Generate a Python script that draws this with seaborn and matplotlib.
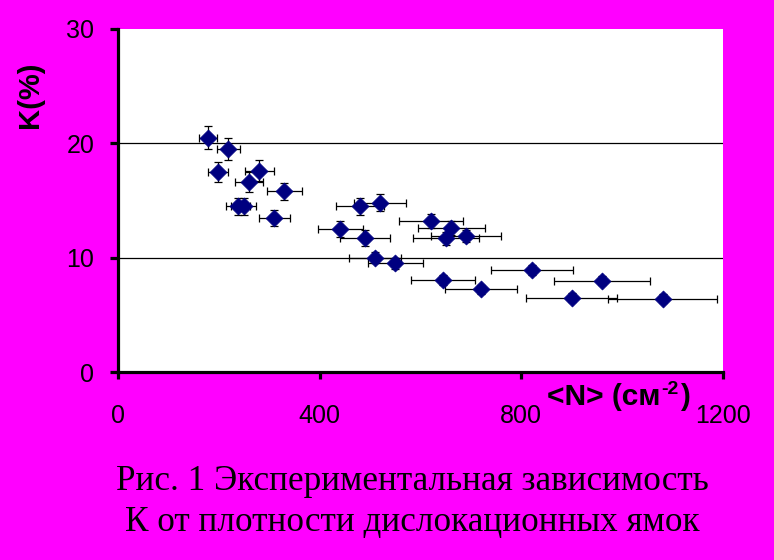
import matplotlib
matplotlib.use("Agg")
import matplotlib.pyplot as plt
import seaborn as sns
import pandas as pd
import numpy as np

# data (density N in cm^-2, K in %)
N_vals = [178, 219, 199, 280, 260, 330, 238, 249, 310, 480, 520, 441, 490, 621, 661, 651, 690, 510, 550, 821, 645, 960, 720, 900, 1080]
K_vals = [20.5, 19.5, 17.5, 17.6, 16.6, 15.8, 14.5, 14.5, 13.5, 14.5, 14.8, 12.5, 11.7, 13.2, 12.6, 11.7, 11.9, 10.0, 9.5, 8.9, 8.05, 8.0, 7.25, 6.5, 6.4]
N_err = [18, 22, 20, 29, 27, 34, 24, 24, 31, 48, 52, 45, 50, 63, 66, 65, 69, 51, 55, 82, 64, 96, 72, 90, 108]
K_err = [1.0, 1.0, 0.85, 0.9, 0.85, 0.77, 0.73, 0.73, 0.7, 0.73, 0.75, 0.7, 0.7, 0.6, 0.6, 0.55, 0.55, 0.5, 0.5, 0.45, 0.45, 0.4, 0.4, 0.4, 0.4]
x_ticks = [0, 400, 800, 1200]
y_ticks = [0, 10, 20, 30]
caption = ["Рис. 1 Экспериментальная зависимость", "К от плотности дислокационных ямок"]
xlabel_parts = ["<N> (см", "-2", ")"]

df = pd.DataFrame({"N": N_vals, "K": K_vals, "dN": N_err, "dK": K_err})

sns.set_style("white")
plt.rcParams["font.family"] = ["Liberation Sans", "DejaVu Sans"]
plt.rcParams["text.color"] = "black"
plt.rcParams["axes.labelcolor"] = "black"
plt.rcParams["xtick.color"] = "black"
plt.rcParams["ytick.color"] = "black"

W, H = 774, 560
MAG = "#FF00FF"
fig = plt.figure(figsize=(W/100, H/100), dpi=100, facecolor=MAG)
ax = fig.add_axes([118/W, 1 - 372/H, (723 - 118)/W, (372 - 29)/H])
ax.set_facecolor("white")

ax.errorbar(df["N"], df["K"], xerr=df["dN"], yerr=df["dK"], fmt="none",
            ecolor="black", elinewidth=0.9, capsize=3, capthick=0.9, zorder=2)
sns.scatterplot(data=df, x="N", y="K", marker="D", s=75, color="#000080",
                edgecolor="#000080", linewidth=0.5, ax=ax, zorder=3)

ax.set_xlim(0, 1200)
ax.set_ylim(0, 30)
ax.set_xticks(x_ticks)
ax.set_yticks(y_ticks)
ax.set_xticklabels([str(v) for v in x_ticks])
ax.set_yticklabels([str(v) for v in y_ticks])
for v in [10, 20]:
    ax.axhline(v, color="black", lw=0.9, zorder=1)

for side in ["top", "right"]:
    ax.spines[side].set_visible(False)
for side in ["left", "bottom"]:
    ax.spines[side].set_visible(True)
    ax.spines[side].set_color("black")
    ax.spines[side].set_linewidth(2.3)

ax.tick_params(axis="y", direction="out", length=6, width=2.3, pad=11,
               labelsize=18, colors="black", left=True)
ax.tick_params(axis="x", direction="out", length=5, width=2.3, pad=18,
               labelsize=18, colors="black", bottom=True)
ax.set_xlabel("")
ax.set_ylabel("")

fig.text(30/W, 1 - 95/H, "K(%)", rotation=90, ha="center", va="center",
         fontsize=21, fontweight="bold", color="black")

# x label built from pieces: main text, raised superscript, closing bracket
base_y = 1 - 405/H
t1 = fig.text(547/W, base_y, xlabel_parts[0], ha="left", va="baseline",
              fontsize=21.5, fontweight="bold", color="black")
fig.canvas.draw()
r = fig.canvas.get_renderer()
x1 = t1.get_window_extent(r).x1
t2 = fig.text((x1 + 1)/W, base_y + 11/H, xlabel_parts[1], ha="left", va="baseline",
              fontsize=14, fontweight="bold", color="black")
x2 = t2.get_window_extent(r).x1
fig.text((x2 + 1)/W, base_y, xlabel_parts[2], ha="left", va="baseline",
         fontsize=21.5, fontweight="bold", color="black")

fig.text(412/W, 1 - 481/H, caption[0], ha="center", va="center", color="black",
         fontsize=25.3, family=["Liberation Serif", "DejaVu Serif"])
fig.text(412/W, 1 - 522/H, caption[1], ha="center", va="center", color="black",
         fontsize=25.3, family=["Liberation Serif", "DejaVu Serif"])

fig.savefig("out.png", dpi=100, facecolor=MAG)
